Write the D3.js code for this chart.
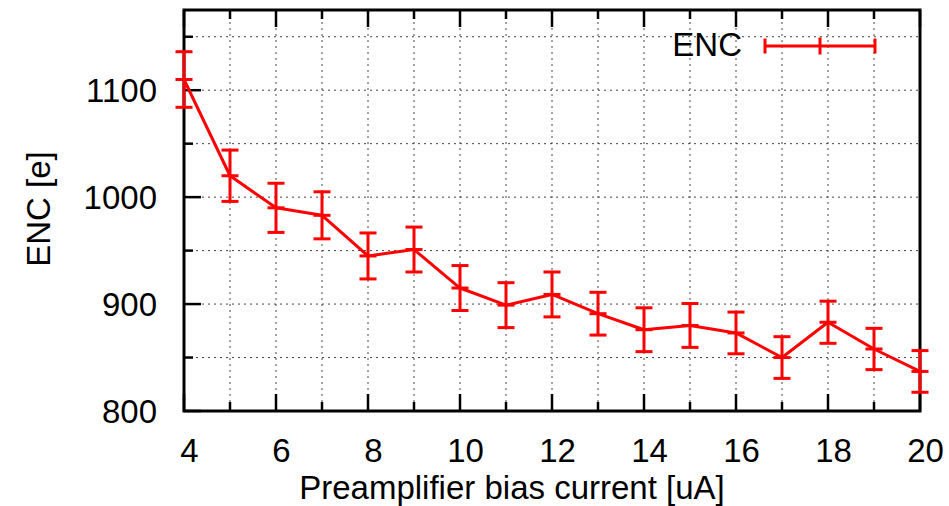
<!DOCTYPE html>
<html>
<head>
<meta charset="utf-8">
<script src="https://cdn.jsdelivr.net/npm/d3@7"></script>
<style>
  html, body { margin: 0; padding: 0; background: #fff; }
  svg { display: block; }
  text { font-family: "Liberation Sans", Arial, Helvetica, sans-serif; fill: #000; }
</style>
</head>
<body>
<svg id="chart" width="949" height="506"></svg>
<script>
// ---- data ----
const biasCurrent = [4, 5, 6, 7, 8, 9, 10, 11, 12, 13, 14, 15, 16, 17, 18, 19, 20];
const encValues   = [1110, 1020, 990, 983, 945, 951, 915, 899, 909, 891, 876, 880, 873, 850, 883, 858, 837];
const encErrors   = [26, 24, 23, 22, 21.5, 21, 21, 21, 21, 20, 20.5, 20.5, 19.5, 19.5, 19.7, 19.3, 19.5];
const xMajorTicks = [4, 6, 8, 10, 12, 14, 16, 18, 20];
const xMinorTicks = [5, 7, 9, 11, 13, 15, 17, 19];
const yMajorTicks = [800, 900, 1000, 1100];
const yMinorTicks = [850, 950, 1050, 1150];
const seriesName = "ENC";
const xTitle = "Preamplifier bias current [uA]";
const yTitle = "ENC [e]";

// ---- layout ----
const svg = d3.select("#chart");
const L = 184, R = 920, T = 10, B = 411;
const x = d3.scaleLinear().domain([4, 20]).range([L, R]);
const y = d3.scaleLinear().domain([800, 1175]).range([B, T]);
const red = "#ff0000";
const fontSize = 33;

// grid
const gridX = biasCurrent.filter(v => v > 4 && v < 20);
svg.append("g").selectAll("line").data(gridX).join("line")
  .attr("x1", d => x(d)).attr("x2", d => x(d))
  .attr("y1", T).attr("y2", B)
  .attr("stroke", "#444").attr("stroke-width", 1).attr("stroke-dasharray", "2,4");
const gridY = yMajorTicks.concat(yMinorTicks).filter(v => v > 800);
svg.append("g").selectAll("line").data(gridY).join("line")
  .attr("x1", L).attr("x2", R)
  .attr("y1", d => y(d)).attr("y2", d => y(d))
  .attr("stroke", "#444").attr("stroke-width", 1).attr("stroke-dasharray", "2,4");

// ticks
const tk = svg.append("g").attr("stroke", "#000").attr("stroke-width", 2.5);
const majLen = 17, minLen = 9;
tk.selectAll(".xb").data(xMajorTicks.concat(xMinorTicks)).join("line")
  .attr("x1", d => x(d)).attr("x2", d => x(d))
  .attr("y1", B).attr("y2", d => B - (xMajorTicks.includes(d) ? majLen : minLen));
tk.selectAll(".xt").data(xMajorTicks.concat(xMinorTicks)).join("line")
  .attr("x1", d => x(d)).attr("x2", d => x(d))
  .attr("y1", T).attr("y2", d => T + (xMajorTicks.includes(d) ? majLen : minLen));
tk.selectAll(".yl").data(yMajorTicks.concat(yMinorTicks)).join("line")
  .attr("x1", L).attr("x2", d => L + (yMajorTicks.includes(d) ? majLen : minLen))
  .attr("y1", d => y(d)).attr("y2", d => y(d));

// border
svg.append("rect").attr("x", L).attr("y", T).attr("width", R - L).attr("height", B - T)
  .attr("fill", "none").attr("stroke", "#000").attr("stroke-width", 3);

// tick labels
svg.append("g").selectAll("text").data(xMajorTicks).join("text")
  .attr("x", d => x(d) + 5.5).attr("y", 461.5)
  .attr("text-anchor", "middle").attr("font-size", fontSize).text(d => d);
svg.append("g").selectAll("text").data(yMajorTicks).join("text")
  .attr("x", 157).attr("y", d => y(d) + 12)
  .attr("text-anchor", "end").attr("font-size", fontSize).text(d => d);

// axis titles
svg.append("text").attr("x", 512).attr("y", 499)
  .attr("text-anchor", "middle").attr("font-size", fontSize).text(xTitle);
svg.append("text").attr("transform", "translate(50,209) rotate(-90)")
  .attr("text-anchor", "middle").attr("font-size", fontSize).text(yTitle);

// data
const pts = biasCurrent.map((c, i) => ({ c, v: encValues[i], e: encErrors[i] }));
const line = d3.line().x(d => x(d.c)).y(d => y(d.v));
const dg = svg.append("g").attr("stroke", red).attr("stroke-width", 3).attr("fill", "none");
dg.append("path").datum(pts).attr("d", line).attr("stroke-linejoin", "round");
const cap = 8.5;
const eb = dg.selectAll(".eb").data(pts).join("g");
eb.append("line").attr("x1", d => x(d.c)).attr("x2", d => x(d.c))
  .attr("y1", d => y(d.v + d.e)).attr("y2", d => y(d.v - d.e));
eb.append("line").attr("x1", d => x(d.c) - cap).attr("x2", d => x(d.c) + cap)
  .attr("y1", d => y(d.v + d.e)).attr("y2", d => y(d.v + d.e));
eb.append("line").attr("x1", d => x(d.c) - cap).attr("x2", d => x(d.c) + cap)
  .attr("y1", d => y(d.v - d.e)).attr("y2", d => y(d.v - d.e));
eb.append("line").attr("x1", d => x(d.c) - cap).attr("x2", d => x(d.c) + cap)
  .attr("y1", d => y(d.v)).attr("y2", d => y(d.v));

// legend
svg.append("text").attr("x", 742).attr("y", 56)
  .attr("text-anchor", "end").attr("font-size", fontSize).text(seriesName);
const lg = svg.append("g").attr("stroke", red).attr("stroke-width", 3);
const ly = 46, lx1 = 765, lx2 = 875, lxm = (lx1 + lx2) / 2;
lg.append("line").attr("x1", lx1).attr("x2", lx2).attr("y1", ly).attr("y2", ly);
lg.append("line").attr("x1", lx1).attr("x2", lx1).attr("y1", ly - 7.5).attr("y2", ly + 7.5);
lg.append("line").attr("x1", lx2).attr("x2", lx2).attr("y1", ly - 7.5).attr("y2", ly + 7.5);
lg.append("line").attr("x1", lxm).attr("x2", lxm).attr("y1", ly - 8.5).attr("y2", ly + 8.5);
</script>
</body>
</html>
